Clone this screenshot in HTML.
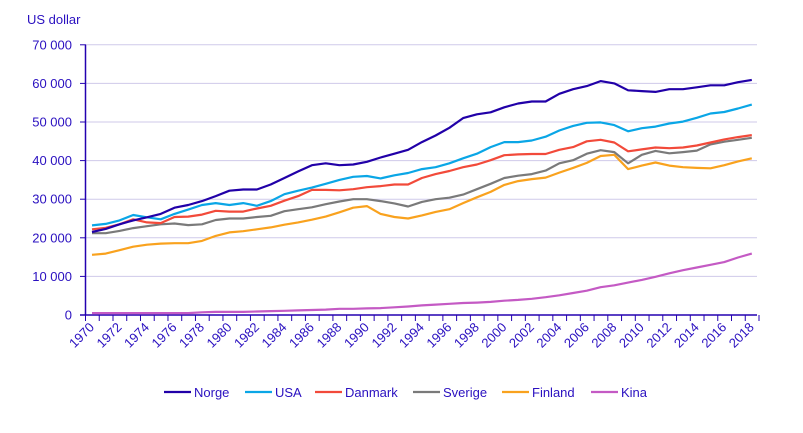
<!DOCTYPE html>
<html><head><meta charset="utf-8"><style>
body{margin:0;background:#fff;}
svg{display:block;font-family:"Liberation Sans",sans-serif;}
</style></head><body>
<svg id="c" width="803" height="433" xmlns="http://www.w3.org/2000/svg"></svg>
<script>
const s=document.getElementById('c');
let h='';
const tc='#2a10c0';
const y0=315,k=38.6/10,x0=92,dx=13.745;
const Y=v=>y0-v*k;
h+=`<text x="27" y="24" font-size="13" fill="${tc}">US dollar</text>`;
for(let i=0;i<=7;i++){const y=Y(i*10);
 if(i>0)h+=`<line x1="86" x2="757" y1="${y}" y2="${y}" stroke="#cfcaea" stroke-width="1"/>`;
 h+=`<line x1="80" x2="86" y1="${y}" y2="${y}" stroke="#2300b0"/>`;
 h+=`<text x="72" y="${y+4.5}" font-size="13" text-anchor="end" fill="${tc}">${i==0?'0':(i*10)+' 000'}</text>`;}
h+=`<line x1="85.5" x2="85.5" y1="${Y(70)}" y2="${y0}" stroke="#2300b0" stroke-width="1.5"/>`;
h+=`<line x1="80" x2="757" y1="${y0}" y2="${y0}" stroke="#2300b0" stroke-width="1.5"/>`;
for(let i=0;i<=49;i++){const x=85.5+i*dx;h+=`<line x1="${x}" x2="${x}" y1="${y0}" y2="${y0+6}" stroke="#2300b0"/>`;}
for(let yr=1970;yr<=2018;yr+=2){const x=x0+(yr-1970)*dx;
 h+=`<text transform="translate(${x+3},${y0+13}) rotate(-45)" font-size="13" text-anchor="end" fill="${tc}">${yr}</text>`;}
const D={
'#2100a8':[21.5,22.3,23.5,24.5,25.3,26.2,27.8,28.5,29.5,30.8,32.2,32.5,32.5,33.8,35.5,37.2,38.8,39.3,38.8,39.0,39.7,40.8,41.8,42.8,44.8,46.5,48.5,51.0,52.0,52.5,53.8,54.8,55.3,55.3,57.3,58.5,59.3,60.6,60.0,58.2,58.0,57.8,58.5,58.5,59.0,59.5,59.5,60.3,60.9],
'#0aa6e6':[23.2,23.6,24.5,25.9,25.3,24.8,26.2,27.3,28.5,29.0,28.5,29.0,28.3,29.5,31.3,32.2,33.0,34.0,35.0,35.8,36.0,35.4,36.2,36.8,37.8,38.3,39.3,40.6,41.8,43.5,44.8,44.8,45.2,46.2,47.8,49.0,49.8,49.9,49.2,47.6,48.4,48.8,49.6,50.1,51.1,52.2,52.6,53.5,54.5],
'#f24a3a':[22.2,22.6,23.5,24.8,24.0,23.8,25.4,25.5,26.0,27.0,26.8,26.8,27.6,28.3,29.6,30.8,32.4,32.4,32.3,32.6,33.1,33.4,33.8,33.8,35.5,36.5,37.3,38.3,39.0,40.1,41.4,41.6,41.7,41.7,42.8,43.5,45.0,45.4,44.7,42.4,42.9,43.4,43.2,43.4,43.9,44.7,45.5,46.1,46.6],
'#7a7a7a':[21.2,21.2,21.8,22.5,23.0,23.5,23.7,23.3,23.5,24.6,25.0,25.0,25.4,25.7,26.9,27.4,27.9,28.7,29.4,30.0,30.0,29.5,28.9,28.1,29.3,30.0,30.4,31.2,32.6,34.0,35.5,36.1,36.5,37.4,39.3,40.1,41.8,42.7,42.2,39.3,41.5,42.5,41.9,42.2,42.6,44.2,44.9,45.4,45.9],
'#f9a21e':[15.6,15.9,16.8,17.7,18.2,18.5,18.6,18.6,19.2,20.5,21.4,21.7,22.2,22.7,23.4,24.0,24.7,25.5,26.6,27.8,28.2,26.2,25.4,25.0,25.8,26.7,27.4,29.0,30.5,31.9,33.7,34.7,35.2,35.6,36.9,38.1,39.4,41.2,41.5,37.8,38.7,39.5,38.7,38.3,38.1,38.0,38.8,39.8,40.6],
'#c45ac4':[0.5,0.5,0.5,0.5,0.5,0.5,0.5,0.5,0.7,0.8,0.8,0.8,0.9,1.0,1.1,1.2,1.3,1.4,1.6,1.6,1.7,1.8,2.0,2.2,2.5,2.7,2.9,3.1,3.2,3.4,3.7,3.9,4.2,4.6,5.1,5.7,6.3,7.2,7.7,8.4,9.1,9.9,10.8,11.6,12.3,13.0,13.7,14.9,15.9]};
const order=['#c45ac4','#f9a21e','#7a7a7a','#f24a3a','#0aa6e6','#2100a8'];
for(const c of order){h+=`<polyline fill="none" stroke="${c}" stroke-width="2.2" stroke-linejoin="round" points="${D[c].map((v,i)=>(x0+i*dx).toFixed(1)+','+Y(v).toFixed(1)).join(' ')}"/>`;}
const L=[['Norge','#2100a8',164],['USA','#0aa6e6',245],['Danmark','#f24a3a',315],['Sverige','#7a7a7a',413],['Finland','#f9a21e',502],['Kina','#c45ac4',591]];
for(const [n,c,x] of L){h+=`<line x1="${x}" x2="${x+27}" y1="392" y2="392" stroke="${c}" stroke-width="2.2"/><text x="${x+30}" y="397" font-size="13" fill="${tc}">${n}</text>`;}
s.innerHTML=h;
</script>
</body></html>
